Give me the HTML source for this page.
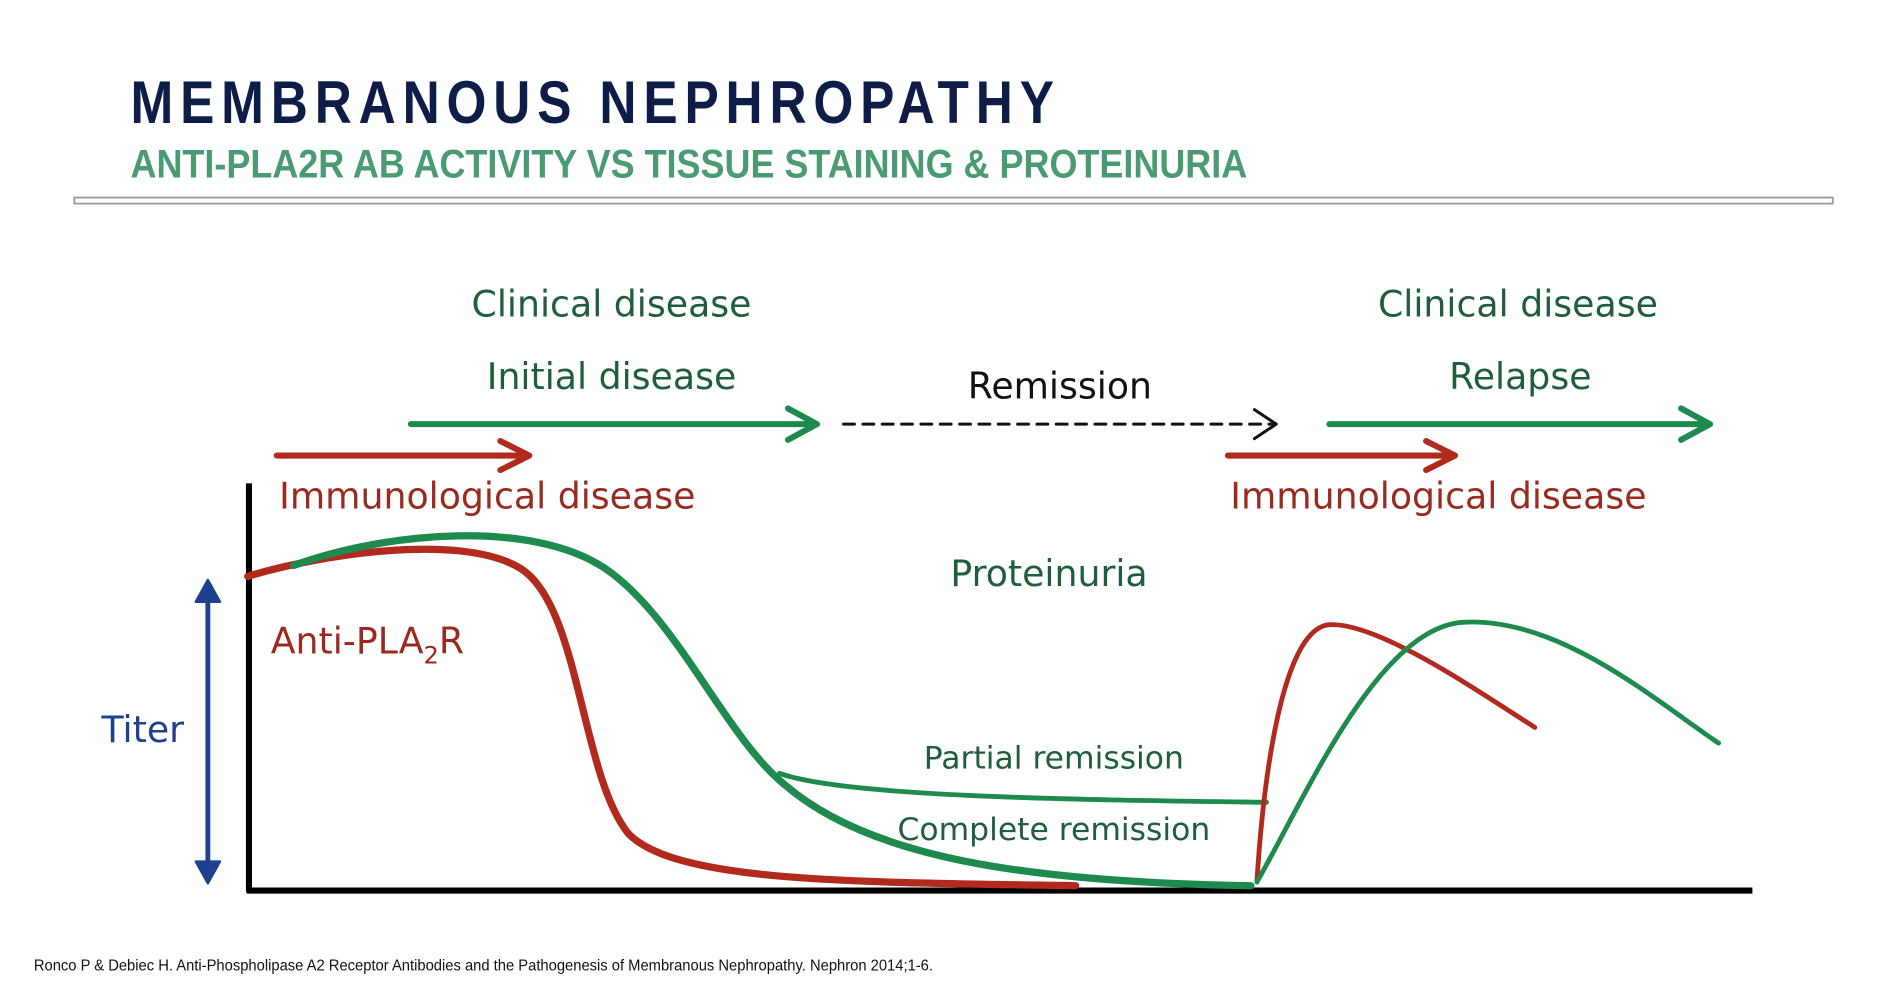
<!DOCTYPE html>
<html><head><meta charset="utf-8"><style>html,body{margin:0;padding:0;background:#fff;overflow:hidden}svg{display:block}</style></head>
<body>
<svg width="1895" height="986" viewBox="0 0 1568 816" preserveAspectRatio="none" xmlns="http://www.w3.org/2000/svg" font-family="Liberation Sans, sans-serif">
<g transform="scale(0.85,1)">
<text x="127" y="102" font-size="50" font-weight="bold" fill="#0e1c48" textLength="899" lengthAdjust="spacing">MEMBRANOUS NEPHROPATHY</text>
</g>
<text x="108" y="147" font-size="33" font-weight="bold" fill="#4a9a72" textLength="924" lengthAdjust="spacingAndGlyphs">ANTI-PLA2R AB ACTIVITY VS TISSUE STAINING &amp; PROTEINURIA</text>
<rect x="61.5" y="163.5" width="1455" height="5" fill="#fff" stroke="#9a9a9a" stroke-width="1.5"/>
<g font-family="DejaVu Sans, Liberation Sans, sans-serif" font-size="30" text-anchor="middle">
<text x="506" y="262" fill="#1f5e3a">Clinical disease</text>
<text x="506" y="322" fill="#1f5e3a">Initial disease</text>
<text x="877" y="330" fill="#111">Remission</text>
<text x="1256" y="262" fill="#1f5e3a">Clinical disease</text>
<text x="1258" y="322" fill="#1f5e3a">Relapse</text>
<text x="868" y="485" fill="#1f5e3a">Proteinuria</text>
<text x="872" y="636" fill="#1f5e3a" font-size="26">Partial remission</text>
<text x="872" y="695" fill="#1f5e3a" font-size="26">Complete remission</text>
</g>
<g font-family="DejaVu Sans, Liberation Sans, sans-serif" font-size="30">
<text x="231" y="421" fill="#9a2a1e">Immunological disease</text>
<text x="1018" y="421" fill="#9a2a1e">Immunological disease</text>
<text x="224" y="541" fill="#9a2a1e">Anti-PLA<tspan font-size="20" dy="8">2</tspan><tspan dy="-8">R</tspan></text>
<text x="84" y="614" fill="#1f3f8f">Titer</text>
</g>
<g fill="none" stroke-width="5" stroke-linecap="round" stroke-linejoin="round">
<path d="M340 351H676M652 338L676 351L652 364" stroke="#1e8a4e"/>
<path d="M1100 351H1415M1391 338L1415 351L1391 364" stroke="#1e8a4e"/>
<path d="M229 377H438M414 365L438 377L414 389" stroke="#b22a1e"/>
<path d="M1016 377H1204M1180 365L1204 377L1180 389" stroke="#b22a1e"/>
<path d="M698 351H1055" stroke="#111" stroke-width="2.5" stroke-dasharray="9 7"/>
<path d="M1038 339L1056 351L1038 363" stroke="#111" stroke-width="2.5"/>
<path d="M206 400V738M204 737H1450" stroke="#000" stroke-width="5" stroke-linecap="butt"/>
<path d="M172 490V722" stroke="#1f3f8f" stroke-width="4"/>
<path d="M162 498L172 480L182 498Z M162 713L172 731L182 713Z" fill="#1f3f8f" stroke="#1f3f8f" stroke-width="2"/>
<path d="M645 640C700 660 900 662 1048 664" stroke="#1e8a4e" stroke-width="4"/>
<path d="M205 477C260 460 380 440 430 470C480 500 480 640 520 690C560 730 700 730 890 733" stroke="#b22a1e" stroke-width="6"/>
<path d="M243 468C320 440 440 430 500 470C560 510 600 610 650 650C720 710 850 730 1035 733" stroke="#1e8a4e" stroke-width="6"/>
<path d="M1040 730C1045 650 1060 520 1100 517C1140 515 1220 570 1270 602" stroke="#b22a1e" stroke-width="4"/>
<path d="M1040 730C1080 660 1140 520 1210 515C1290 510 1370 580 1422 615" stroke="#1e8a4e" stroke-width="4"/>
</g>
<text x="28" y="803" font-size="13" fill="#111" textLength="744" lengthAdjust="spacingAndGlyphs">Ronco P &amp; Debiec H. Anti-Phospholipase A2 Receptor Antibodies and the Pathogenesis of Membranous Nephropathy. Nephron 2014;1-6.</text>
</svg>
</body></html>
